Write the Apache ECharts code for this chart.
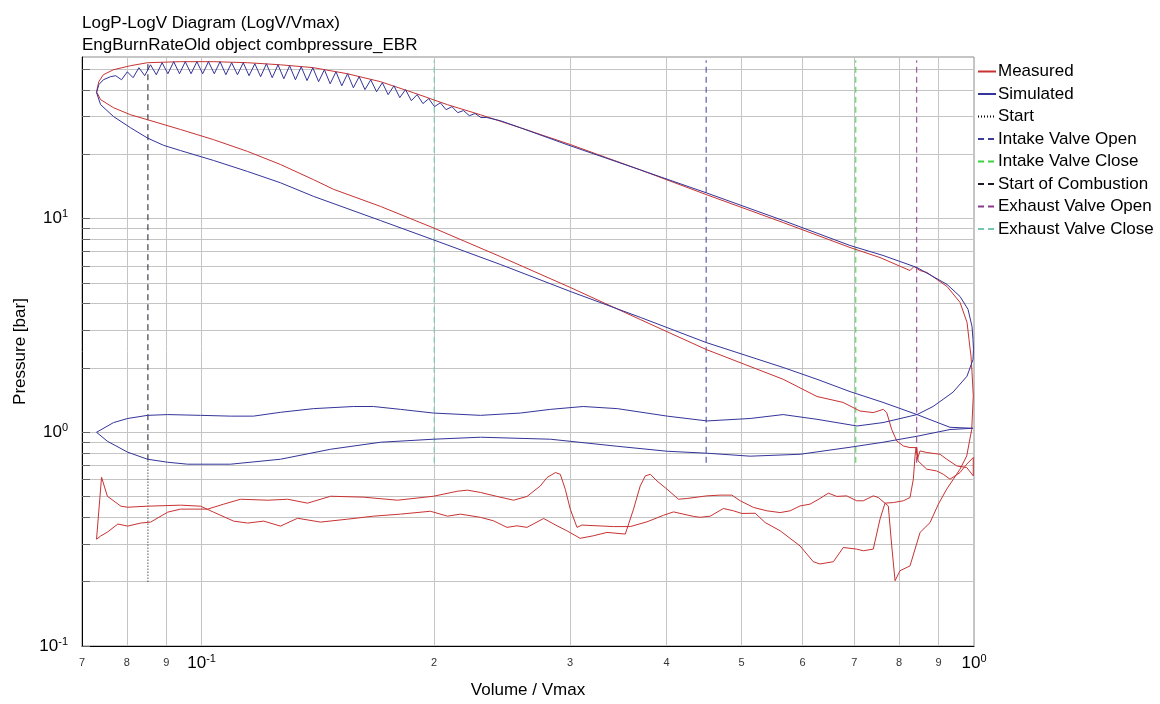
<!DOCTYPE html>
<html>
<head>
<meta charset="utf-8">
<title>LogP-LogV Diagram</title>
<script src="https://cdn.jsdelivr.net/npm/echarts@6/dist/echarts.min.js"></script>
<style>
  html, body { margin: 0; padding: 0; background: #fff; }
  #chart { width: 1160px; height: 704px; }
</style>
</head>
<body>
<div id="chart"></div>
<script>
// axis ticks (log decades with 2..9 minors)
const xTickValues = [0.07, 0.08, 0.09, 0.1, 0.2, 0.3, 0.4, 0.5, 0.6, 0.7, 0.8, 0.9, 1]
const yTickValues = [0.1, 0.2, 0.3, 0.4, 0.5, 0.6, 0.7, 0.8, 0.9, 1, 2, 3, 4, 5, 6, 7, 8, 9, 10, 20, 30, 40, 50]
const yLabelValues = [0.1, 1, 10]

// measured cycle, [V/Vmax, p bar], in crank order
const measuredExpansion = [
  [0.0731, 39.2], [0.0736, 43.7], [0.0746, 47.1], [0.0769, 49.7], [0.0809, 51.9], [0.0851, 53.6],
  [0.0939, 54.2], [0.1036, 54.2], [0.1147, 53.6], [0.1265, 52.4], [0.1396, 50.8], [0.1544, 47.6],
  [0.1704, 43.7], [0.1880, 38.8], [0.2081, 34.1], [0.2296, 30.6], [0.2586, 26.6], [0.3001, 22.2],
  [0.3697, 16.9], [0.4500, 12.95], [0.5661, 9.58], [0.6910, 7.32], [0.7556, 6.57], [0.8263, 5.71],
  [0.8363, 5.97], [0.8515, 5.71], [0.8694, 5.59], [0.9227, 4.81], [0.9592, 4.05], [0.9794, 3.27],
  [0.9852, 2.72], [0.9911, 2.27], [0.9941, 1.91], [0.9979, 1.48]
]
const measuredExhaust = [
  [0.9932, 1.03], [0.9785, 0.775], [0.9592, 0.672], [0.9402, 0.603], [0.9219, 0.542], [0.8992, 0.461],
  [0.8772, 0.378], [0.8515, 0.340], [0.8263, 0.237], [0.8020, 0.225], [0.7903, 0.202], [0.7825, 0.294],
  [0.7745, 0.452], [0.7670, 0.466], [0.7556, 0.392], [0.7406, 0.284], [0.7189, 0.279], [0.7049, 0.284],
  [0.6773, 0.289], [0.6576, 0.248], [0.6318, 0.242], [0.6193, 0.248], [0.5953, 0.294], [0.5611, 0.346],
  [0.5366, 0.378], [0.5208, 0.418], [0.5006, 0.417], [0.4882, 0.429], [0.4738, 0.440], [0.4554, 0.405],
  [0.4420, 0.400], [0.4333, 0.404], [0.4083, 0.424], [0.3963, 0.409], [0.3772, 0.381], [0.3589, 0.362],
  [0.3415, 0.362], [0.3107, 0.368], [0.3062, 0.359], [0.3001, 0.437], [0.2957, 0.541], [0.2913, 0.636],
  [0.2871, 0.648], [0.2800, 0.614], [0.2745, 0.561], [0.2638, 0.501], [0.2535, 0.481], [0.2412, 0.501],
  [0.2296, 0.523], [0.2209, 0.536], [0.2144, 0.530], [0.1996, 0.502], [0.1793, 0.481], [0.1620, 0.497],
  [0.1469, 0.502], [0.1371, 0.466], [0.1292, 0.486], [0.1218, 0.481], [0.1123, 0.486], [0.1068, 0.461],
  [0.1018, 0.437], [0.0939, 0.437], [0.0904, 0.423], [0.0859, 0.380], [0.0834, 0.376], [0.0802, 0.364],
  [0.0779, 0.372], [0.0755, 0.341], [0.0740, 0.327], [0.0731, 0.316]
]
const measuredIntake = [
  [0.0742, 0.616], [0.0755, 0.502], [0.0786, 0.451], [0.0802, 0.446], [0.0851, 0.451], [0.0939, 0.456],
  [0.0997, 0.451], [0.1036, 0.423], [0.1100, 0.384], [0.1147, 0.376], [0.1203, 0.384], [0.1265, 0.364],
  [0.1331, 0.396], [0.1425, 0.380], [0.1544, 0.392], [0.1669, 0.405], [0.1809, 0.414], [0.1978, 0.427],
  [0.2081, 0.405], [0.2163, 0.414], [0.2296, 0.400], [0.2388, 0.385], [0.2485, 0.359], [0.2560, 0.365],
  [0.2638, 0.359], [0.2772, 0.395], [0.2885, 0.365], [0.2971, 0.346], [0.3091, 0.319], [0.3217, 0.328],
  [0.3348, 0.340], [0.3536, 0.334], [0.3624, 0.437], [0.3697, 0.561], [0.3753, 0.625], [0.3810, 0.636],
  [0.3886, 0.592], [0.4004, 0.542], [0.4143, 0.486], [0.4248, 0.490], [0.4509, 0.504], [0.4691, 0.508],
  [0.4859, 0.508], [0.4981, 0.478], [0.5182, 0.445], [0.5393, 0.429], [0.5611, 0.421], [0.5780, 0.429],
  [0.5953, 0.452], [0.6133, 0.461], [0.6318, 0.490], [0.6478, 0.519], [0.6642, 0.501], [0.6842, 0.504],
  [0.7049, 0.478], [0.7189, 0.478], [0.7406, 0.504], [0.7518, 0.495], [0.7670, 0.466], [0.7863, 0.469],
  [0.8100, 0.478], [0.8263, 0.495], [0.8345, 0.603], [0.8388, 0.775], [0.8413, 0.848], [0.8446, 0.748],
  [0.8515, 0.818], [0.8686, 0.804], [0.9038, 0.789], [0.9219, 0.748], [0.9498, 0.696], [0.9785, 0.684],
  [0.9979, 0.625]
]
const measuredCompression = [
  [0.9979, 0.762], [0.9932, 0.775], [0.9785, 0.709], [0.9592, 0.648], [0.9310, 0.603], [0.9126, 0.636],
  [0.8949, 0.659], [0.8686, 0.672], [0.8464, 0.734], [0.8431, 0.848], [0.8263, 0.848], [0.8100, 0.863],
  [0.7943, 0.911], [0.7825, 1.03], [0.7709, 1.236], [0.7631, 1.28], [0.7406, 1.236], [0.7118, 1.257],
  [0.6767, 1.38], [0.6262, 1.47], [0.5661, 1.77], [0.4500, 2.44], [0.3697, 3.37], [0.3001, 4.76],
  [0.2436, 6.64], [0.1990, 9.08], [0.1704, 11.4], [0.1482, 13.7], [0.1396, 15.2], [0.1265, 17.9],
  [0.1147, 20.6], [0.1036, 23.4], [0.0939, 26.1], [0.0851, 29.0], [0.0809, 30.6], [0.0769, 33.0],
  [0.0740, 36.0], [0.0731, 39.2]
]

// simulated cycle
const simulatedCompression = [
  [0.9970, 1.044], [0.9310, 1.055], [0.8437, 1.21], [0.7624, 1.38], [0.6910, 1.55], [0.6262, 1.77],
  [0.5661, 2.01], [0.4500, 2.63], [0.3697, 3.45], [0.3001, 4.56], [0.2436, 6.10], [0.1990, 7.98],
  [0.1704, 9.79], [0.1396, 12.7], [0.1265, 14.7], [0.1147, 16.6], [0.1036, 18.7], [0.0939, 20.8],
  [0.0893, 22.0], [0.0851, 23.8], [0.0809, 26.6], [0.0769, 30.0], [0.0740, 34.1], [0.0731, 38.8]
]
// pressure ringing after ignition (tooth tops / bottoms)
const simulatedRinging = [
  [0.0736, 42.3], [0.0746, 44.6], [0.0762, 46.1],
  [0.07740, 46.6], [0.07875, 44.6], [0.08012, 48.6], [0.08152, 45.6], [0.08294, 50.8], [0.08439, 46.6],
  [0.08586, 52.4], [0.08736, 47.1], [0.08888, 53.6], [0.09043, 47.6], [0.09201, 54.2], [0.09361, 47.6],
  [0.09524, 54.2], [0.09690, 47.6], [0.09859, 54.2], [0.10031, 47.6], [0.10206, 54.2], [0.10384, 47.6],
  [0.10565, 54.2], [0.10749, 47.1], [0.10936, 53.6], [0.11127, 47.1], [0.11321, 53.6], [0.11518, 46.6],
  [0.11719, 53.0], [0.11923, 46.1], [0.12131, 53.0], [0.12342, 45.6], [0.12557, 52.4], [0.12776, 45.1],
  [0.12999, 51.9], [0.13226, 44.6], [0.13456, 51.3], [0.13691, 44.2], [0.13929, 50.8], [0.14172, 43.7],
  [0.14419, 49.7], [0.14670, 42.7], [0.14926, 48.6], [0.15186, 41.8], [0.15451, 47.6], [0.15720, 40.9],
  [0.15994, 46.1], [0.16273, 40.1], [0.16557, 44.6], [0.16845, 39.2], [0.17139, 43.2], [0.17438, 38.0],
  [0.17742, 41.8], [0.18051, 36.8], [0.18365, 40.1], [0.18685, 35.6], [0.19011, 38.0], [0.19342, 34.5],
  [0.19680, 36.4], [0.20023, 33.4], [0.20372, 34.8], [0.20727, 32.3], [0.21088, 33.4], [0.21456, 31.3],
  [0.21830, 32.0], [0.22210, 30.3], [0.22597, 31.0], [0.22991, 29.7], [0.23392, 29.7]
]
const simulatedExpansion = [
  [0.2436, 28.7], [0.2586, 26.6], [0.3001, 21.9], [0.3697, 16.9], [0.4500, 13.2], [0.5661, 9.79],
  [0.6910, 7.48], [0.7624, 6.72], [0.8437, 5.90], [0.9227, 4.92], [0.9592, 4.32], [0.9823, 3.76],
  [0.9941, 3.13], [0.9970, 2.72], [0.9985, 2.44], [0.9970, 2.19]
]
const simulatedExhaust = [
  [0.9794, 1.83], [0.9393, 1.54], [0.8851, 1.32], [0.8437, 1.21], [0.7624, 1.11], [0.7055, 1.07],
  [0.6262, 1.15], [0.5661, 1.21], [0.5131, 1.16], [0.4513, 1.13], [0.4007, 1.19], [0.3453, 1.29],
  [0.3119, 1.32], [0.2828, 1.28], [0.2586, 1.23], [0.2296, 1.20], [0.1996, 1.23], [0.1809, 1.28],
  [0.1669, 1.32], [0.1572, 1.32], [0.1396, 1.29], [0.1265, 1.24], [0.1167, 1.19], [0.1090, 1.19],
  [0.0997, 1.20], [0.0904, 1.21], [0.0851, 1.20], [0.0802, 1.16], [0.0769, 1.11], [0.0731, 1.00]
]
const simulatedIntake = [
  [0.0755, 0.908], [0.0802, 0.807], [0.0851, 0.748], [0.0904, 0.724], [0.0959, 0.709], [0.1090, 0.709],
  [0.1265, 0.748], [0.1469, 0.833], [0.1704, 0.898], [0.1996, 0.928], [0.2296, 0.948], [0.2828, 0.928],
  [0.3453, 0.860], [0.4007, 0.815], [0.4513, 0.798], [0.5131, 0.773], [0.5953, 0.789], [0.6910, 0.851],
  [0.7624, 0.898], [0.8437, 0.958], [0.9310, 1.03], [0.9970, 1.044]
]

// valve / combustion events
const eventNames = ['Start', 'Intake Valve Open', 'Intake Valve Close', 'Start of Combustion', 'Exhaust Valve Open', 'Exhaust Valve Close']
const eventVolumes = [0.0852, 0.450, 0.703, 0.0852, 0.843, 0.200]
const eventPLow = [0.2, 0.72, 0.72, 0.74, 0.72, 0.72]
const eventPHigh = [0.75, 55, 55, 55, 55, 55]

const eventStyles = [
  { color: '#000000', type: [1, 2] },
  { color: '#3c3c9c', type: [6, 4] },
  { color: '#3fd23f', type: [6, 4] },
  { color: '#1a1a2a', type: [6, 4] },
  { color: '#8a3a8a', type: [6, 4] },
  { color: '#74c8b0', type: [6, 4] }
]

const font = 'Liberation Sans, Arial, sans-serif'

function logLabel(v) {
  const e = Math.round(Math.log10(v))
  if (Math.abs(v / Math.pow(10, e) - 1) < 1e-6) {
    return '{b|10}{s|' + e + '}'
  }
  const m = Math.round(v / Math.pow(10, Math.floor(Math.log10(v) + 1e-9)))
  return '{m|' + m + '}'
}

const labelRich = {
  b: { fontSize: 17, fontFamily: font, color: '#000', lineHeight: 20 },
  s: { fontSize: 11, fontFamily: font, color: '#000', lineHeight: 11, verticalAlign: 'top' },
  m: { fontSize: 11, fontFamily: font, color: '#333', lineHeight: 20 }
}

const eventSeries = eventNames.map((name, i) => ({
  name: name,
  type: 'line',
  symbol: 'none',
  z: 2,
  data: [[eventVolumes[i], eventPLow[i]], [eventVolumes[i], eventPHigh[i]]],
  lineStyle: { color: eventStyles[i].color, type: eventStyles[i].type, width: 1 },
  itemStyle: { color: eventStyles[i].color }
}))

const option = {
  animation: false,
  backgroundColor: '#fff',
  title: {
    text: 'LogP-LogV Diagram (LogV/Vmax)\nEngBurnRateOld object combpressure_EBR',
    left: 82,
    top: 12,
    padding: 0,
    textStyle: { fontSize: 17, fontWeight: 'normal', fontFamily: font, color: '#000', lineHeight: 22 }
  },
  legend: {
    orient: 'vertical',
    left: 977,
    top: 63,
    padding: 0,
    itemWidth: 18,
    itemHeight: 14,
    itemGap: 5.5,
    selectedMode: false,
    itemStyle: { opacity: 0 },
    data: ['Measured', 'Simulated'].concat(eventNames),
    textStyle: { fontSize: 17, fontFamily: font, color: '#000', lineHeight: 14, padding: [0, 0, 0, -3] }
  },
  grid: {
    left: 82,
    right: 186,
    top: 57,
    bottom: 57,
    show: true,
    borderColor: '#8c8c8c',
    borderWidth: 1
  },
  xAxis: {
    type: 'log',
    logBase: 10,
    min: 0.07,
    max: 1,
    name: 'Volume / Vmax',
    nameLocation: 'middle',
    nameGap: 36,
    nameTextStyle: { fontSize: 17, fontFamily: font, color: '#000' },
    axisLine: { onZero: false, lineStyle: { color: '#000', width: 1 } },
    axisTick: { show: false, customValues: xTickValues },
    axisLabel: { customValues: xTickValues, margin: 7, formatter: logLabel, rich: labelRich },
    splitLine: { show: true, lineStyle: { color: '#c4c4c4', width: 1 } }
  },
  yAxis: {
    type: 'log',
    logBase: 10,
    min: 0.1,
    max: 57,
    name: 'Pressure [bar]',
    nameLocation: 'middle',
    nameGap: 52,
    nameTextStyle: { fontSize: 17, fontFamily: font, color: '#000' },
    axisLine: { onZero: false, lineStyle: { color: '#000', width: 1 } },
    axisTick: { show: true, inside: true, length: 8, customValues: yTickValues, lineStyle: { color: '#666' } },
    axisLabel: { customValues: yLabelValues, margin: 14, formatter: logLabel, rich: labelRich },
    splitLine: { show: true, lineStyle: { color: '#c4c4c4', width: 1 } }
  },
  series: [
    {
      name: 'Measured',
      type: 'line',
      symbol: 'none',
      z: 3,
      data: measuredExpansion.concat(measuredExhaust, measuredIntake, measuredCompression),
      lineStyle: { color: '#c83232', width: 1 },
      itemStyle: { color: '#c83232' }
    },
    {
      name: 'Simulated',
      type: 'line',
      symbol: 'none',
      z: 3,
      data: simulatedCompression.concat(simulatedRinging, simulatedExpansion, simulatedExhaust, simulatedIntake),
      lineStyle: { color: '#34349a', width: 1 },
      itemStyle: { color: '#34349a' }
    }
  ].concat(eventSeries)
}

const chart = echarts.init(document.getElementById('chart'))
chart.setOption(option)
</script>
</body>
</html>
